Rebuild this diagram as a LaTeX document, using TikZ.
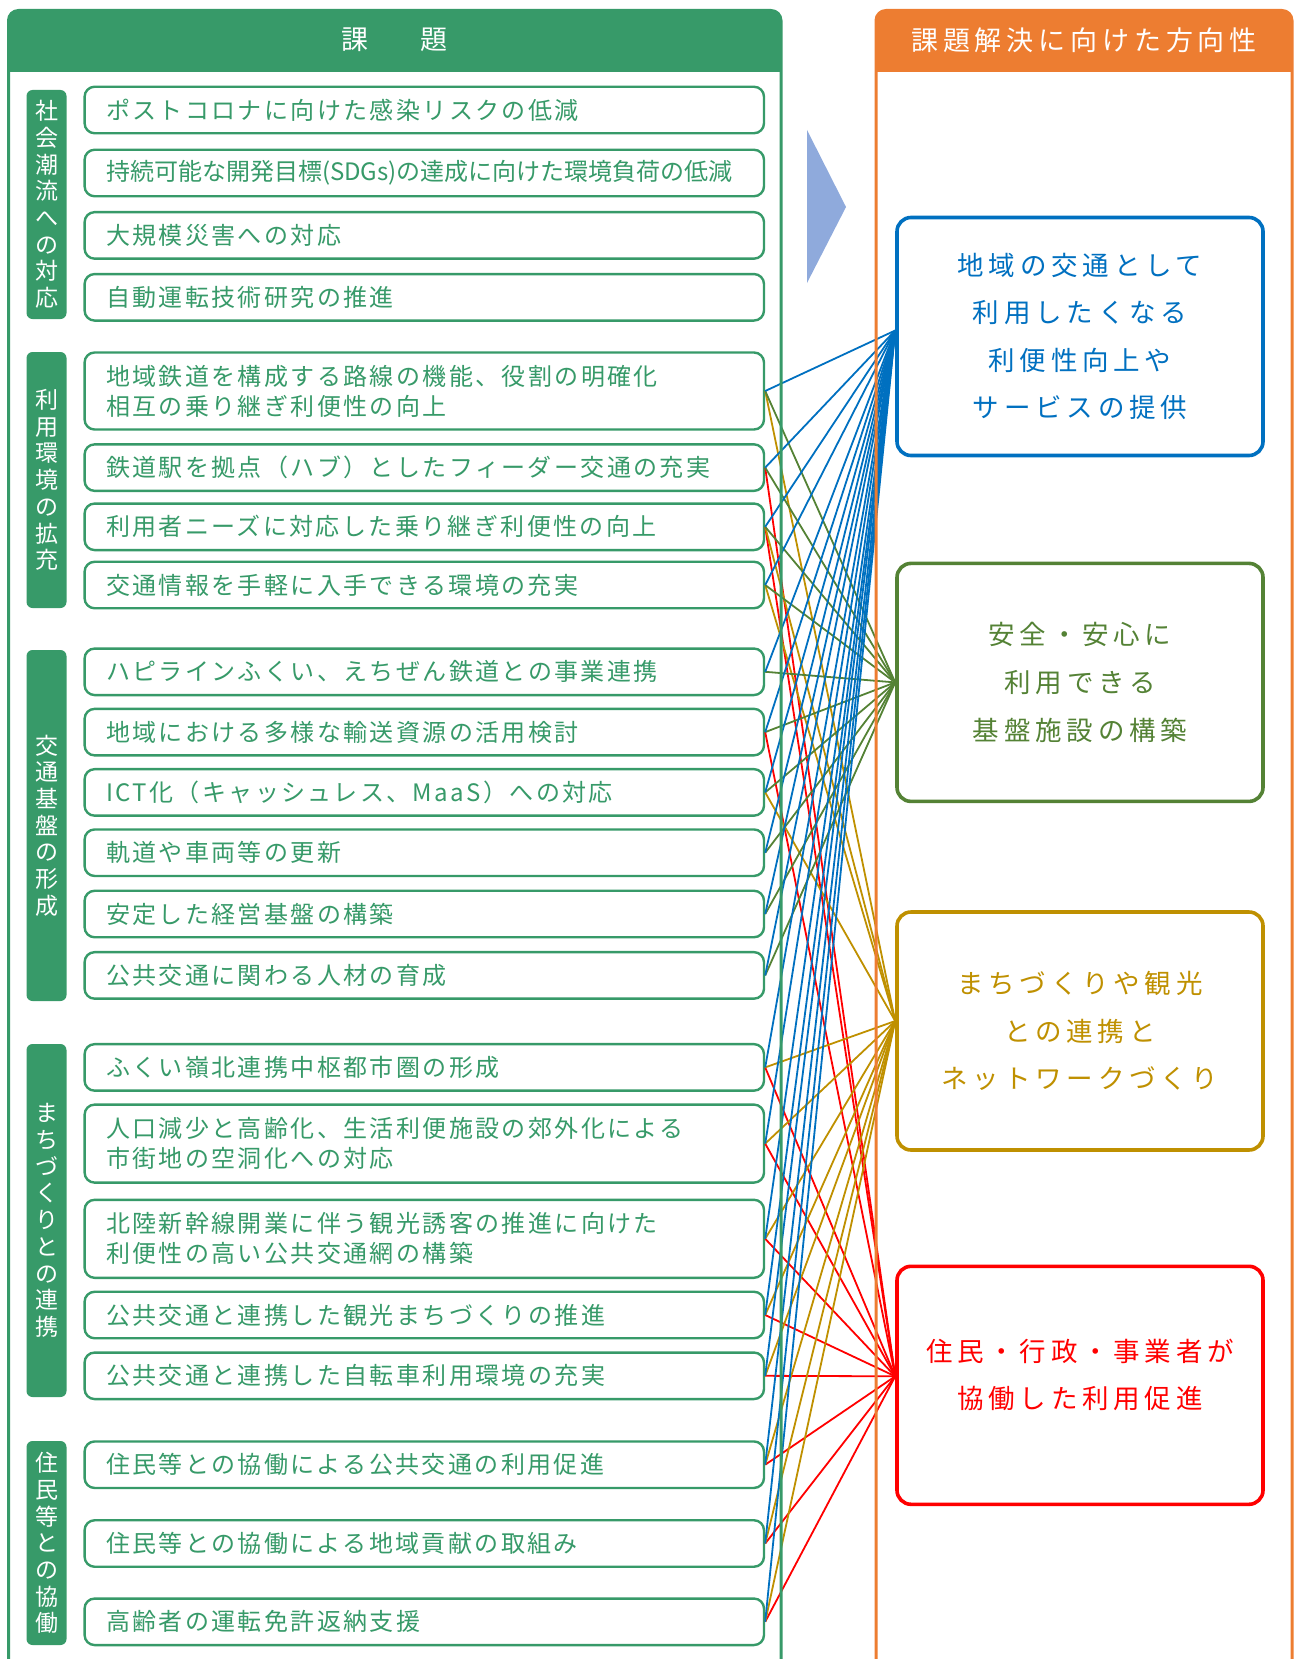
\documentclass[tikz,border=0pt]{standalone}
\usepackage{fontspec}
\setmainfont{Noto Sans CJK JP}
\newfontfamily\itemjp[LetterSpace=10]{Noto Sans CJK JP}
\newfontfamily\tightjp{Noto Sans CJK JP}
\newfontfamily\goaljp[LetterSpace=18]{Noto Sans CJK JP}
\usetikzlibrary{positioning}

\definecolor{kadai}{HTML}{379A69}
\definecolor{houkou}{HTML}{ED7D31}
\definecolor{gblue}{HTML}{0070C0}
\definecolor{ggreen}{HTML}{548235}
\definecolor{ggold}{HTML}{BF9000}
\definecolor{gred}{HTML}{FF0000}
\definecolor{arrowblue}{HTML}{8FAADC}

\tikzset{
  item/.style={draw=kadai, line width=2.4pt, rounded corners=10pt, fill=white,
    text=kadai, align=left, text width=636.6pt, inner xsep=21.4pt, inner ysep=0pt,
    minimum height=#1, font=\itemjp\fontsize{24}{30}\selectfont},
  cat/.style={fill=kadai, rounded corners=6pt, text=white, minimum width=40pt,
    inner sep=0pt, align=center, font=\fontsize{23}{26.7}\selectfont},
  goal/.style={draw=#1, text=#1, line width=3.6pt, rounded corners=14pt, fill=white,
    minimum width=366pt, minimum height=238pt, align=center,
    font=\goaljp\fontsize{26.5}{47.6}\selectfont},
  link/.style={draw=#1, line width=1.8pt},
}

\begin{document}
\begin{tikzpicture}[x=1pt,y=-1pt]
  \useasboundingbox (0,0) rectangle (1298,1659);
  \clip (0,0) rectangle (1298,1659);

  \foreach \n/\y/\h/\txt in {
      1/110/46.5/{ポストコロナに向けた感染リスクの低減},
      2/173/46.5/{\tightjp 持続可能な開発目標(SDGs)の達成に向けた環境負荷の低減},
      3/235.4/46.5/{大規模災害への対応},
      4/297.3/46.5/{自動運転技術研究の推進},
      5/391/77/{地域鉄道を構成する路線の機能、役割の明確化\\相互の乗り継ぎ利便性の向上},
      6/467.6/46.5/{鉄道駅を拠点（ハブ）としたフィーダー交通の充実},
      7/526.8/46.5/{利用者ニーズに対応した乗り継ぎ利便性の向上},
      8/585/46.5/{交通情報を手軽に入手できる環境の充実},
      9/671.8/46.5/{ハピラインふくい、えちぜん鉄道との事業連携},
      10/732.1/46.5/{地域における多様な輸送資源の活用検討},
      11/792.4/46.5/{ICT化（キャッシュレス、MaaS）への対応},
      12/852.7/46.5/{軌道や車両等の更新},
      13/914/46.5/{安定した経営基盤の構築},
      14/975.4/46.5/{公共交通に関わる人材の育成},
      15/1067.4/46.5/{ふくい嶺北連携中枢都市圏の形成},
      16/1143.6/78/{人口減少と高齢化、生活利便施設の郊外化による\\市街地の空洞化への対応},
      17/1238.8/78/{北陸新幹線開業に伴う観光誘客の推進に向けた\\利便性の高い公共交通網の構築},
      18/1315/46.5/{公共交通と連携した観光まちづくりの推進},
      19/1375.8/46.5/{公共交通と連携した自転車利用環境の充実},
      20/1464.7/46.5/{住民等との協働による公共交通の利用促進},
      21/1543.5/46.5/{住民等との協働による地域貢献の取組み},
      22/1621.8/46.5/{高齢者の運転免許返納支援}} {
    \node[item=\h pt] (p\n) at (424.3,\y) {\txt};
  }

  \foreach \n/\y/\h/\txt in {
      1/204.5/229/{社\\会\\潮\\流\\へ\\の\\対\\応},
      2/480/256/{利\\用\\環\\境\\の\\拡\\充},
      3/825.5/351/{交\\通\\基\\盤\\の\\形\\成},
      4/1220.5/353/{ま\\ち\\づ\\く\\り\\と\\の\\連\\携},
      5/1543/204/{住\\民\\等\\と\\の\\協\\働}} {
    \node[cat, minimum height=\h pt] (c\n) at (46.5,\y) {\txt};
  }

  \node[goal=gblue] (conv) at (1080,336.5) {地域の交通として\\利用したくなる\\利便性向上や\\サービスの提供};
  \node[goal=ggreen] (safe) at (1080,682.4) {安全・安心に\\利用できる\\基盤施設の構築};
  \node[goal=ggold] (town) at (1080,1031) {まちづくりや観光\\との連携と\\ネットワークづくり};
  \node[goal=gred, text depth=23pt] (coop) at (1080,1385.3) {住民・行政・事業者が\\協働した利用促進};

  \coordinate (convIn) at ([yshift=6pt]conv.west);
  \coordinate (safeIn) at (safe.west);
  \coordinate (townIn) at ([yshift=10pt]town.west);
  \coordinate (coopIn) at ([yshift=9pt]coop.west);

  \foreach \n in {6,7,10,15,16,...,22}
    \draw[link=gred] (p\n.east) -- (coopIn);
  \foreach \n in {5,7,8,11,15,16,...,22}
    \draw[link=ggold] (p\n.east) -- (townIn);
  \foreach \n in {5,...,14}
    \draw[link=ggreen] (p\n.east) -- (safeIn);
  \foreach \n in {5,...,22}
    \draw[link=gblue] (p\n.east) -- (convIn);

  \fill[arrowblue] (807,130) -- (846,207) -- (807,283) -- cycle;

  \draw[kadai, line width=3pt, rounded corners=10pt] (8.5,1720) -- (8.5,10.5) -- (781,10.5) -- (781,1720);
  \fill[kadai] (8.5,72) [rounded corners=10pt] -- (8.5,10.5) -- (781,10.5) [sharp corners] -- (781,72) -- cycle;
  \node[text=white, font=\goaljp\fontsize{27}{32}\selectfont] (kadaiHead) at (394.6,40) {課\hspace{1.9em}題};

  \draw[houkou, line width=3pt, rounded corners=10pt] (876,1720) -- (876,10.5) -- (1292,10.5) -- (1292,1720);
  \fill[houkou] (876,72) [rounded corners=10pt] -- (876,10.5) -- (1292,10.5) [sharp corners] -- (1292,72) -- cycle;
  \node[text=white, font=\goaljp\fontsize{27}{32}\selectfont] (houkouHead) at (1084,40) {課題解決に向けた方向性};
\end{tikzpicture}
\end{document}
